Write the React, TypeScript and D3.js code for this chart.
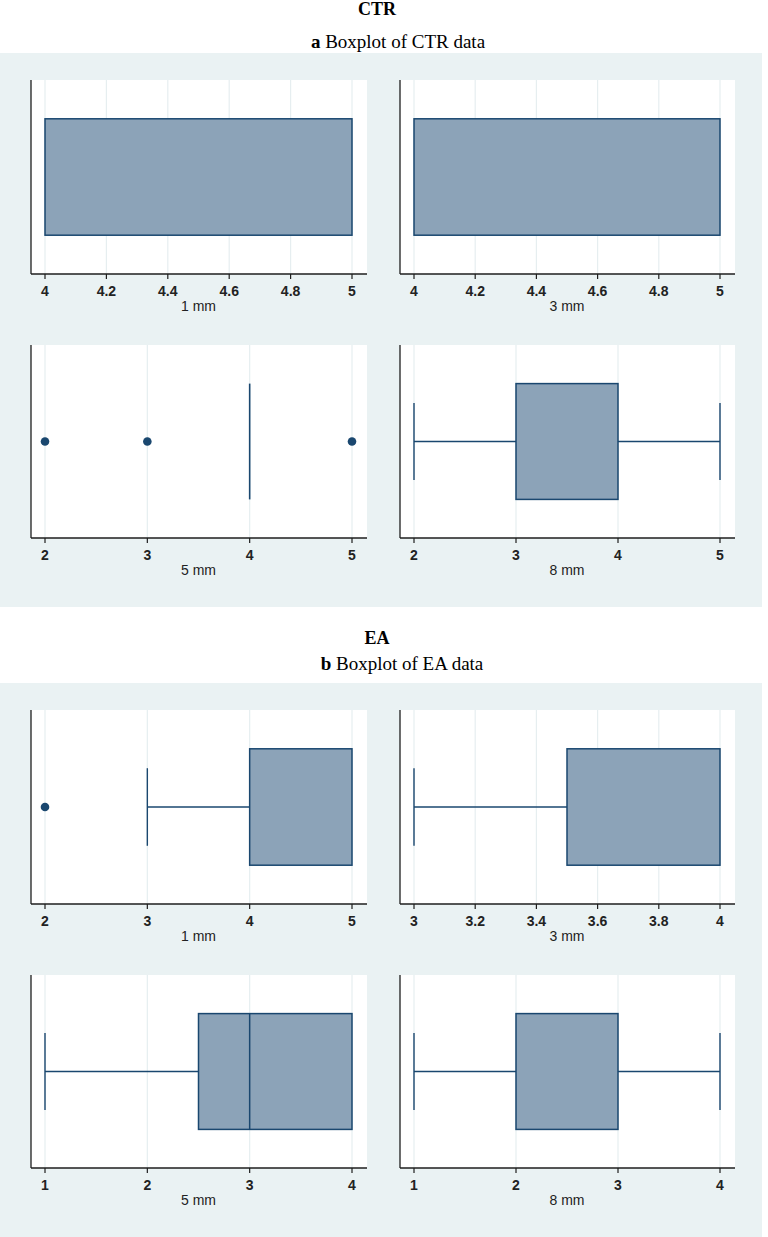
import React from "react";
import * as d3 from "d3";

// ---- data ----
const sections = ["CTR", "EA"];
const subtitleLetters = ["a", "b"];
const subtitleTexts = [" Boxplot of CTR data", " Boxplot of EA data"];
const groupLabels = ["1 mm", "3 mm", "5 mm", "8 mm"];

// box stats per section per group: [whiskerLow, q1, median, q3, whiskerHigh]
const ctrStats = [
  [4, 4, 5, 5, 5],
  [4, 4, 5, 5, 5],
  [4, 4, 4, 4, 4],
  [2, 3, 4, 4, 5],
];
const eaStats = [
  [3, 4, 5, 5, 5],
  [3, 3.5, 4, 4, 4],
  [1, 2.5, 3, 4, 4],
  [1, 2, 3, 3, 4],
];
const ctrOutliers = [[], [], [2, 3, 5], []];
const eaOutliers = [[2], [], [], []];

const ctrTicks = [
  [4, 4.2, 4.4, 4.6, 4.8, 5],
  [4, 4.2, 4.4, 4.6, 4.8, 5],
  [2, 3, 4, 5],
  [2, 3, 4, 5],
];
const eaTicks = [
  [2, 3, 4, 5],
  [3, 3.2, 3.4, 3.6, 3.8, 4],
  [1, 2, 3, 4],
  [1, 2, 3, 4],
];

const allStats = [ctrStats, eaStats];
const allOutliers = [ctrOutliers, eaOutliers];
const allTicks = [ctrTicks, eaTicks];

// ---- style ----
const BG = "#eaf2f3";
const NAVY = "#1a476f";
const FILL = "#8ca3b8";
const GRID = "#e6eef0";
const AXIS = "#1e1e1e";
const W = 768;
const H = 1237;

const colX = [
  { left: 31, right: 367 },
  { left: 400, right: 735 },
];
const rowY = [
  { top: 80, bottom: 274 },
  { top: 345, bottom: 538 },
];
const SECTION_OFFSET = 630;

function Panel({ s, g }: { s: number; g: number }) {
  const col = colX[g % 2];
  const row = rowY[Math.floor(g / 2)];
  const off = s * SECTION_OFFSET;
  const top = row.top + off;
  const bottom = row.bottom + off;
  const ticks = allTicks[s][g];
  const st = allStats[s][g];
  const outl = allOutliers[s][g];
  const x = d3
    .scaleLinear()
    .domain([ticks[0], ticks[ticks.length - 1]])
    .range([col.left + 14, col.right - 15]);
  const y = d3.scaleLinear().domain([0, 1]).range([bottom, top]);
  const fmt = (v: number) => (Number.isInteger(v) ? String(v) : d3.format(".1f")(v));
  const [wl, q1, med, q3, wh] = st;
  const cy = y(0.5);
  return (
    <g>
      <rect x={col.left} y={top} width={col.right - col.left} height={bottom - top} fill="#fff" />
      {ticks.map((t, i) => (
        <line key={"g" + i} x1={x(t)} x2={x(t)} y1={top} y2={bottom} stroke={GRID} strokeWidth={1.2} />
      ))}
      {wl < q1 && (
        <g>
          <line x1={x(wl)} x2={x(q1)} y1={cy} y2={cy} stroke={NAVY} strokeWidth={1.4} />
          <line x1={x(wl)} x2={x(wl)} y1={y(0.3)} y2={y(0.7)} stroke={NAVY} strokeWidth={1.4} />
        </g>
      )}
      {wh > q3 && (
        <g>
          <line x1={x(q3)} x2={x(wh)} y1={cy} y2={cy} stroke={NAVY} strokeWidth={1.4} />
          <line x1={x(wh)} x2={x(wh)} y1={y(0.3)} y2={y(0.7)} stroke={NAVY} strokeWidth={1.4} />
        </g>
      )}
      {q3 > q1 ? (
        <rect
          x={x(q1)}
          y={y(0.8)}
          width={x(q3) - x(q1)}
          height={y(0.2) - y(0.8)}
          fill={FILL}
          stroke={NAVY}
          strokeWidth={1.5}
        />
      ) : (
        <line x1={x(q1)} x2={x(q1)} y1={y(0.8)} y2={y(0.2)} stroke={NAVY} strokeWidth={1.6} />
      )}
      {med > q1 && med < q3 && (
        <line x1={x(med)} x2={x(med)} y1={y(0.8)} y2={y(0.2)} stroke={NAVY} strokeWidth={1.5} />
      )}
      {outl.map((o, i) => (
        <circle key={"o" + i} cx={x(o)} cy={cy} r={4.3} fill={NAVY} />
      ))}
      <line x1={col.left} x2={col.left} y1={top} y2={bottom} stroke={AXIS} strokeWidth={1.3} />
      <line x1={col.left} x2={col.right} y1={bottom} y2={bottom} stroke={AXIS} strokeWidth={1.3} />
      {ticks.map((t, i) => (
        <g key={"t" + i}>
          <line x1={x(t)} x2={x(t)} y1={bottom} y2={bottom + 5} stroke={AXIS} strokeWidth={1.2} />
          <text
            x={x(t)}
            y={bottom + 22}
            textAnchor="middle"
            fontFamily="Liberation Sans, Arial, sans-serif"
            fontSize={14}
            fontWeight="bold"
            fill="#222"
          >
            {fmt(t)}
          </text>
        </g>
      ))}
      <text
        x={(x.range()[0] + x.range()[1]) / 2}
        y={bottom + 37}
        textAnchor="middle"
        fontFamily="Liberation Sans, Arial, sans-serif"
        fontSize={14}
        fill="#222"
      >
        {groupLabels[g]}
      </text>
    </g>
  );
}

export default function App() {
  return (
    <svg
      width={W}
      height={H}
      style={{ position: "absolute", left: 0, top: 0, display: "block", background: "#fff" }}
    >
      {sections.map((sec, s) => {
        const off = s * SECTION_OFFSET;
        return (
          <g key={sec}>
            <rect x={0} y={53 + off} width={762} height={554} fill={BG} />
            <text
              x={377}
              y={15 + off - (s === 1 ? 1 : 0)}
              textAnchor="middle"
              fontFamily="Liberation Serif, Times New Roman, serif"
              fontWeight="bold"
              fontSize={18}
              fill="#000"
            >
              {sec}
            </text>
            <text
              x={s === 0 ? 398 : 402}
              y={s === 0 ? 48 : 670}
              textAnchor="middle"
              fontFamily="Liberation Serif, Times New Roman, serif"
              fontSize={19}
              fill="#000"
            >
              <tspan fontWeight="bold">{subtitleLetters[s]}</tspan>
              <tspan>{subtitleTexts[s]}</tspan>
            </text>
            {groupLabels.map((_, g) => (
              <Panel key={g} s={s} g={g} />
            ))}
          </g>
        );
      })}
    </svg>
  );
}
